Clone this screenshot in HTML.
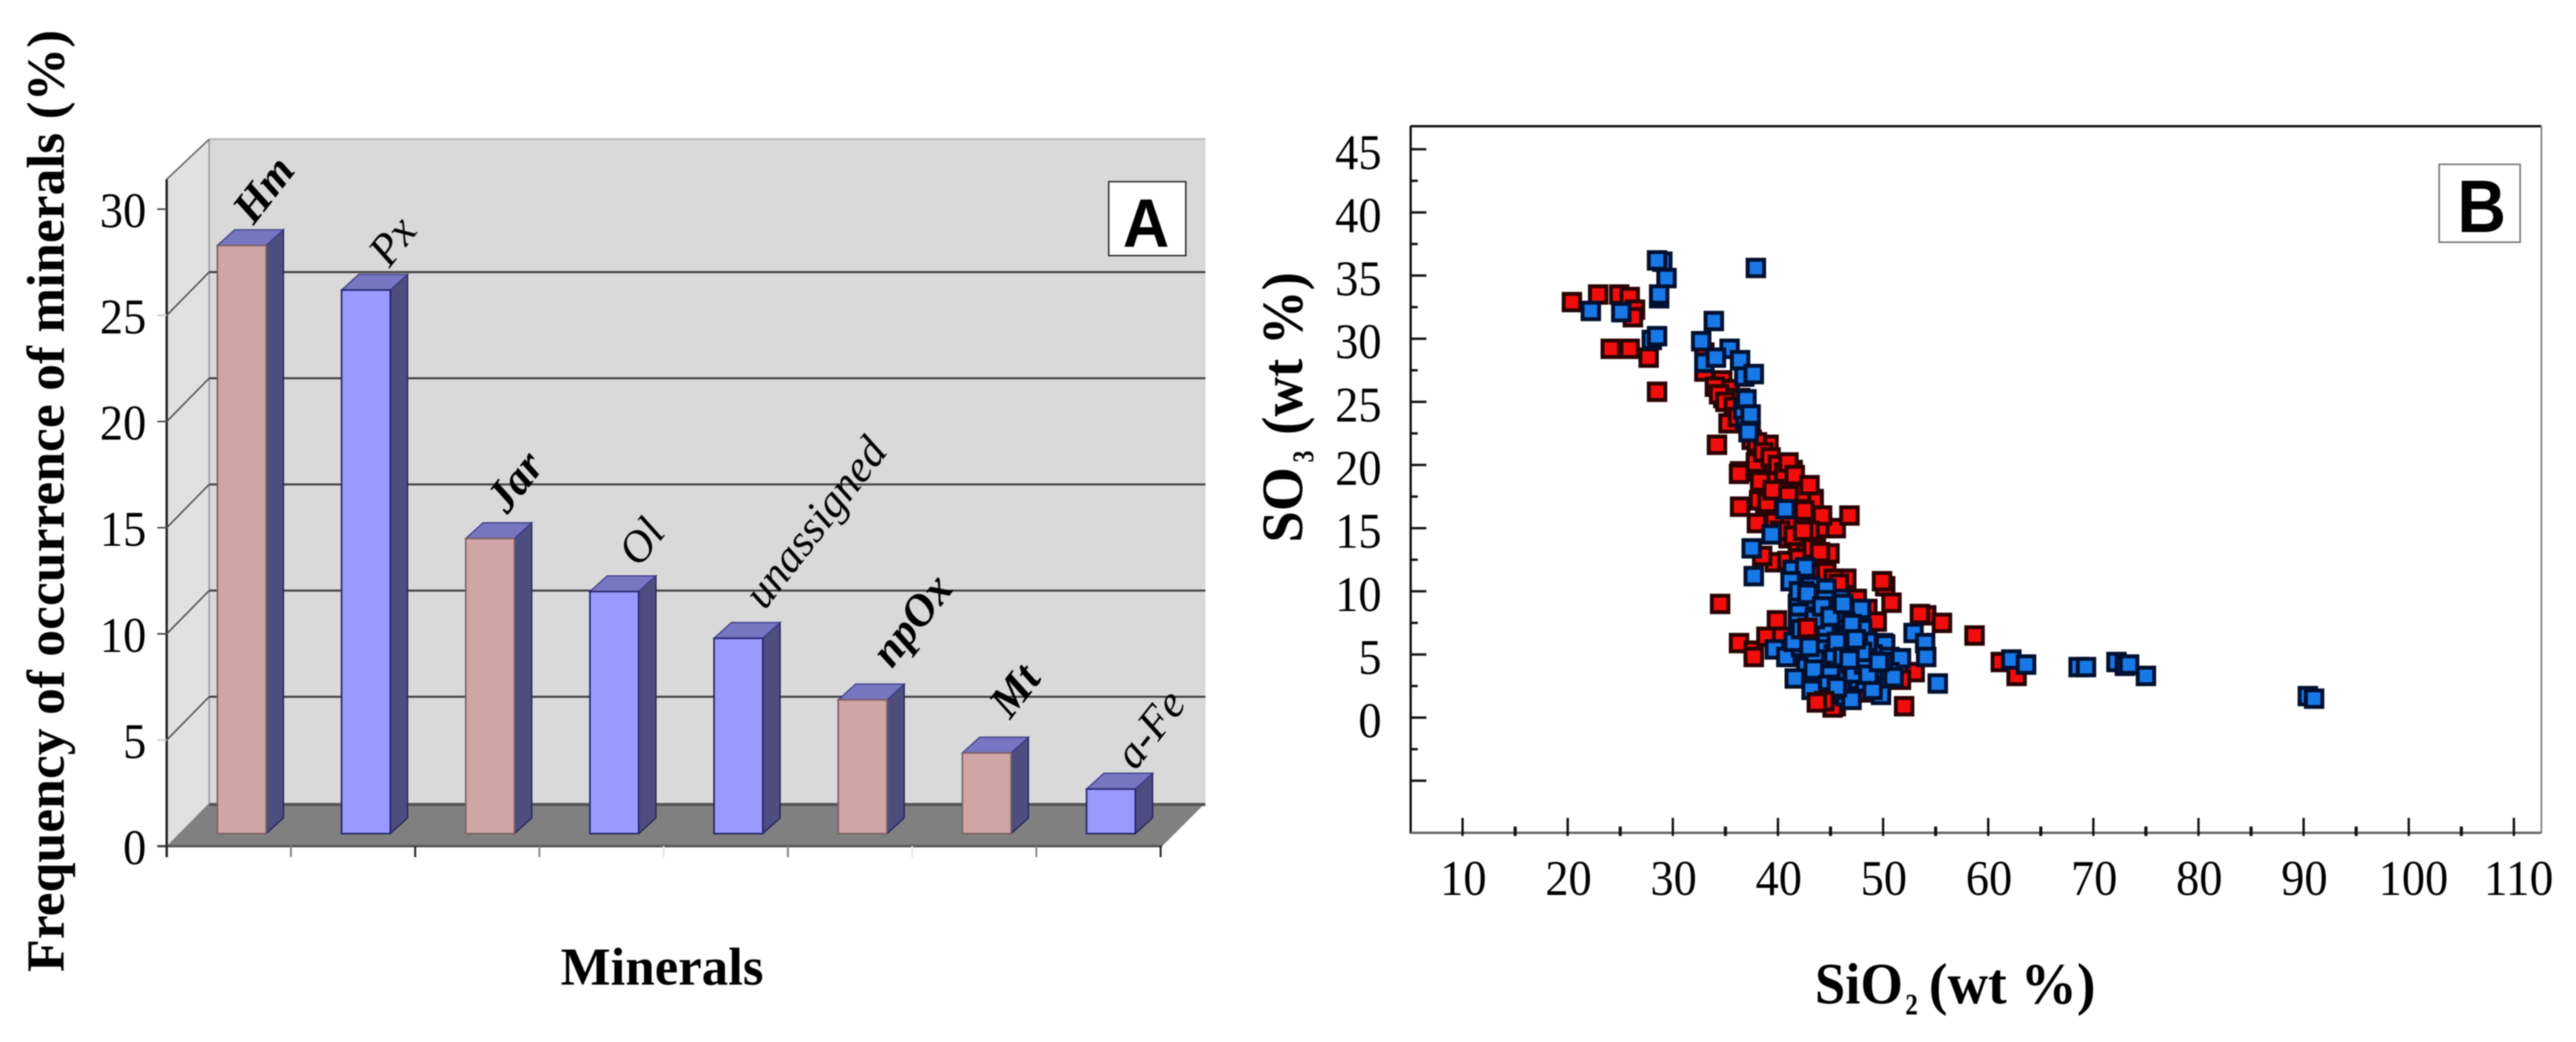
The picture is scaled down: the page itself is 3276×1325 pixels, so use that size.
<!DOCTYPE html>
<html lang="en">
<head>
<meta charset="utf-8">
<title>Mineral frequency and SO3 vs SiO2</title>
<style>
html,body{margin:0;padding:0;background:#fff;width:3276px;height:1325px;overflow:hidden}
svg{display:block;filter:blur(0.7px)}
text{font-family:"Liberation Serif",serif;fill:#000}
.bold{font-weight:bold}
.sans{font-family:"Liberation Sans",sans-serif;font-weight:bold}
</style>
</head>
<body>
<svg id="figure" xmlns="http://www.w3.org/2000/svg" width="3276" height="1325" viewBox="0 0 3276 1325">
  <rect x="0" y="0" width="3276" height="1325" fill="#ffffff"/>
  <g id="panelA">
    <polygon points="212,228 266,177 266,1021 212,1076" fill="#e1e1e1"/>
    <rect x="266" y="177" width="1267" height="844" fill="#d9d9d9"/>
    <line x1="266" y1="177" x2="1533" y2="177" stroke="#bfbfbf" stroke-width="3"/>
    <line x1="266" y1="177" x2="266" y2="1021" stroke="#a0a0a0" stroke-width="2"/>
    <line x1="212" y1="228" x2="266" y2="177" stroke="#666666" stroke-width="2"/>
    <polygon points="212,1076 266,1021 1533,1021 1478,1076" fill="#808080"/>
    <rect x="266" y="1021" width="1267" height="4" fill="#565656"/>
    <line x1="200" y1="1076" x2="1478" y2="1076" stroke="#555555" stroke-width="3"/>
    <line x1="212" y1="228" x2="212" y2="1090" stroke="#222222" stroke-width="3"/>
    <g id="gridA"></g>
    <g id="ticksA"></g>
    <g id="barsA"></g>
    <g id="labelsA"></g>
    <text class="bold" transform="rotate(-90 81 1236)" x="81" y="1236" font-size="68" textLength="1198" lengthAdjust="spacingAndGlyphs">Frequency of occurrence of minerals (%)</text>
    <text class="bold" x="713" y="1252" font-size="68" textLength="258" lengthAdjust="spacingAndGlyphs">Minerals</text>
    <rect x="1410" y="231" width="98" height="94" fill="#ffffff" stroke="#333333" stroke-width="2"/>
    <text class="sans" x="1428" y="314" font-size="87" textLength="59" lengthAdjust="spacingAndGlyphs">A</text>
  </g>
  <g id="panelB">
    <line x1="1794" y1="160.500" x2="3232" y2="160.500" stroke="#111111" stroke-width="3"/>
    <line x1="3232" y1="160" x2="3232" y2="1059" stroke="#777777" stroke-width="2"/>
    <line x1="1794" y1="160" x2="1794" y2="1060" stroke="#111111" stroke-width="3"/>
    <line x1="1794" y1="1059" x2="3232" y2="1059" stroke="#666666" stroke-width="3"/>
    <g id="ticksB"></g>
    <g id="pointsB"></g>
    <g>
      <text class="bold" transform="rotate(-90 1656 690)" x="1656" y="690" font-size="74" textLength="96" lengthAdjust="spacingAndGlyphs">SO</text>
      <text class="bold" transform="rotate(-90 1670 588)" x="1670" y="588" font-size="38" textLength="15" lengthAdjust="spacingAndGlyphs">3</text>
      <text class="bold" transform="rotate(-90 1656 553)" x="1656" y="553" font-size="74" textLength="207" lengthAdjust="spacingAndGlyphs">(wt %)</text>
    </g>
    <g>
      <text class="bold" x="2308" y="1276" font-size="74" textLength="112" lengthAdjust="spacingAndGlyphs">SiO</text>
      <text class="bold" x="2423" y="1290" font-size="38" textLength="16" lengthAdjust="spacingAndGlyphs">2</text>
      <text class="bold" x="2453" y="1276" font-size="74" textLength="212" lengthAdjust="spacingAndGlyphs">(wt %)</text>
    </g>
    <rect x="3102" y="209" width="103" height="99" fill="#ffffff" stroke="#777777" stroke-width="2"/>
    <text class="sans" x="3125" y="295" font-size="95" textLength="62" lengthAdjust="spacingAndGlyphs">B</text>
  </g>
</svg>
<script>
const mineralNames = ['Hm', 'Px', 'Jar', 'Ol', 'unassigned', 'npOx', 'Mt', 'a-Fe'];
const mineralValues = [27.7, 25.6, 13.9, 11.4, 9.2, 6.3, 3.8, 2.1];
const mineralKinds = ['oxide', 'silicate', 'oxide', 'silicate', 'silicate', 'oxide', 'oxide', 'silicate'];
const mineralEmphasis = [true, false, true, false, false, true, true, false];
const ticksA = [0, 5, 10, 15, 20, 25, 30];
const gridA = [5, 10, 15, 20, 25];

const ticksXB = [10, 20, 30, 40, 50, 60, 70, 80, 90, 100, 110];
const ticksYB = [0, 5, 10, 15, 20, 25, 30, 35, 40, 45];

const redX = [20.4,22.9,24.9,25.9,26.4,26.2,24.1,25.9,27.7,28.5,33,33,34.7,35.4,34.8,36.4,36,36.7,35.3,34.2,37.9,36.4,38.9,37.5,39.1,37.9,36.3,39.7,41.2,38.3,39.9,41.4,36.4,38.8,43.4,38,39.7,41.2,42.7,44.4,45.5,44.2,41,41.9,42.7,39.7,40.9,43.6,44.4,44.4,34.5,39.9,36.3,37.7,37.7,38.9,40.4,42.8,43.9,46.1,48,50.2,50.8,49.9,54.1,53.5,55.6,58.7,61.2,62.7,53,51.7,52,45.5,47.9,40.5,41.8,42.5,43,43.5,38.2,40,42,44.9,45,46.5,47.2,34,34.4,35,35.8,36.2,37,37.4,38,38.6,39.3,40,40.6,41,41.6,42.2,43,39,40.2,41.5,42.4,43.3,44,44.6,45.3,45.8,38.5,39.5,41,42.5,46.8,47.5,48.5,49.4,43.1,44.2,45.2];
const redY = [32.9,33.5,33.5,33.3,32.3,31.7,29.2,29.2,28.5,25.8,28.9,27.4,26.7,26,25.3,25.3,24.6,24.3,23.3,21.6,20.2,19.5,21.5,22,21.6,20.2,19.3,19.3,18.8,18.7,18,19.6,16.7,16.8,17.3,15.4,15.5,15.5,15.3,15,15,16,14.2,13.9,13,12.3,12.4,13.7,12.6,11.6,9,7.7,5.9,5.3,4.8,6.4,6.4,7.1,4.1,10.1,2,10.4,9.1,10.8,8.1,8.2,7.5,6.5,4.4,3.3,3.6,3,0.9,0.9,2,17.5,16.6,15.9,14.8,11.4,17.2,16.9,12.6,13,8.9,11,7,26.2,25.6,25,24.6,23.8,23.4,22.6,21.8,21,20.6,20,19.4,20.2,19.2,17.8,18.4,17,14.8,14.4,14.8,13.4,13.1,11.5,11,10.6,12.8,18,17.6,16.4,16,9.4,8.6,7.6,6.8,3.4,0.8,1];

const blueX = [29,28.5,29.4,28.7,28.7,22.2,25.1,28,28.5,37.9,33.9,33,32.7,35.4,34.1,36.4,36.8,37.7,36.9,37.2,40.7,39.4,37.5,37.7,41.4,42.6,43.1,41.9,43.1,44,45.9,47.9,44.6,43.1,46.4,46.6,45.4,44.2,47.9,39.7,40.8,42.2,44,45.8,42.7,46.1,45,41.6,43.9,47,48.3,46.1,48.7,49.4,50,49.8,50.2,50.6,51.7,50.6,49.8,46.4,52.9,54,54.1,55.2,62.2,63.6,68.6,69.3,72.2,73,73.4,75,90.4,91,42,44.5,45.3,46.8,47.5,43,44.5,45.5,48,49,47.2,44.8,46.3,48.5,42.5,41.9,43.5,36.7,37,37.4,41.2,42,42.8,43.5,44.2,45,45.6,46.2,47,47.6,48.2,41.5,43,44,45,46,47,48,49,50,51,42.2,43.4,44.8,46.2,47.4,48.6,49.6,44.4,45.6,46.8,43.2];
const blueY = [36.1,36.2,34.8,33.2,33.5,32.2,32.1,29.9,30.2,35.6,31.4,28.1,29.8,29.2,28.5,28.3,27,27.2,23.7,22.6,16.5,14.5,13.4,11.2,11.7,11.9,10.4,9,8.4,8.4,9.4,8.6,10.2,9.3,7.6,6.6,7.8,6.6,6.6,5.4,4.8,5.6,5.4,6.1,4,4.3,4,3.1,2.5,2.7,2.8,1.9,4.6,3.8,5.9,2.5,5.8,4.8,4.7,3.6,1.8,1.7,6.7,5.9,4.8,2.7,4.6,4.2,4,4,4.4,4.1,4.2,3.3,1.7,1.5,8.3,7.2,5,5.3,4,6.8,9.3,3,7,5,3.5,3.2,8.3,6,10,7.5,4.6,24.4,25.2,24,10.8,10,9.8,7.8,8.8,8,6,9,7.4,5.8,4.2,6,5.6,3.6,3.4,2.2,1.4,5.2,2.2,4.4,3.2,7,3.8,2.6,4.8,6.2,3.4,4.4,1.6,2.4,4.6,2.2];

const topRedX = [44.4, 43.7, 42.8];
const topRedY = [1.3, 1.2, 7.1];

const SVGNS = 'http://www.w3.org/2000/svg';
function mk(tag, attrs, parent) {
  const node = document.createElementNS(SVGNS, tag);
  for (const k in attrs) node.setAttribute(k, attrs[k]);
  parent.appendChild(node);
  return node;
}

/* Panel A axis functions */
const frontY = v => 1076 - 27 * v;
const wallY = v => 1021 - 27 * v;
const barBaseY = 1060;
const barTopY = v => barBaseY - 27 * v;
const barLeft = i => 276.500 + i * 157.900;
const barWidth = 62;
const depthX = 22;
const depthY = 20;

function drawPanelA() {
  const grid = document.getElementById('gridA');
  gridA.forEach(v => {
    const y = wallY(v);
    let el = mk('line', {x1: 266, y1: y, x2: 1533, y2: y, stroke: '#3a3a3a', 'stroke-width': 2.500}, grid);
    
    
    el = mk('line', {x1: 266, y1: y, x2: 212, y2: y + 55, stroke: '#555555', 'stroke-width': 2}, grid);
    
    
  });

  const ticks = document.getElementById('ticksA');
  ticksA.forEach(v => {
    const y = frontY(v);
    let el = mk('line', {x1: 200, y1: y, x2: 212, y2: y, stroke: (v === 5 || v === 25) ? '#cccccc' : '#444444', 'stroke-width': 2}, ticks);
    
    
    const s = String(v);
    el = mk('text', {x: 186, y: y + 23, 'font-size': 63, 'text-anchor': 'end', textLength: s.length * 29.500, lengthAdjust: 'spacingAndGlyphs'}, ticks);
    
    
    el.textContent = s;
  });
  const xTickColors = ['#222', '#888', '#222', '#888', '#e8e8e8', '#888', '#e8e8e8', '#888', '#222'];
  xTickColors.forEach((c, i) => {
    const x = 212 + i * 158;
    const el = mk('line', {x1: x, y1: 1076, x2: x, y2: 1090, stroke: c, 'stroke-width': 2.500}, ticks);
    
    
  });

  const bars = document.getElementById('barsA');
  const labels = document.getElementById('labelsA');
  const labelShiftX = [59, 65, 63, 66, 129, 94, 67, 81];
  const labelShiftY = [-51, -42, -52, -43, -127, -81, -59, -56];
  mineralValues.forEach((v, i) => {
    const left = barLeft(i);
    const right = left + barWidth;
    const top = barTopY(v);
    const name = mineralNames[i];
    const oxide = mineralKinds[i] === 'oxide';
    const g = mk('g', {}, bars);
    
    
    let el = mk('polygon', {points: [right, top, right + depthX, top - depthY, right + depthX, barBaseY - depthY, right, barBaseY].join(' '), fill: '#4d4d80', stroke: '#1d1d55', 'stroke-width': 1.500}, g);
    
    
    el = mk('polygon', {points: [left, top, left + depthX, top - depthY, right + depthX, top - depthY, right, top].join(' '), fill: '#7676c2', stroke: '#3a3a85', 'stroke-width': 1.500}, g);
    
    
    el = mk('rect', {x: left, y: top, width: barWidth, height: barBaseY - top, fill: oxide ? '#d0a5a5' : '#9999ff', stroke: oxide ? '#7d5f62' : '#22226a', 'stroke-width': 2}, g);
    
    

    const cx = left + labelShiftX[i];
    const cy = top - depthY + labelShiftY[i];
    const t = mk('text', {x: cx, y: cy + 18, 'text-anchor': 'middle', 'font-size': 57, 'font-style': 'italic', 'font-weight': mineralEmphasis[i] ? 'bold' : 'normal', transform: 'rotate(-52 ' + cx + ' ' + cy + ')'}, labels);
    
    
    t.textContent = name;
  });
}

/* Panel B axis functions */
const xB = v => 1860 + (v - 10) * 13.370;
const yB = v => 912.500 - 16.060 * v;

function drawPanelB() {
  const ticks = document.getElementById('ticksB');
  for (let v = 10; v <= 110; v += 5) {
    const major = v % 10 === 0;
    const el = mk('line', {x1: xB(v), y1: major ? 1040 : 1051, x2: xB(v), y2: 1063, stroke: '#111111', 'stroke-width': major ? 3 : 4}, ticks);
    
    
  }
  for (let v = -5; v <= 45; v += 2.500) {
    const major = v % 5 === 0;
    const el = mk('line', {x1: 1794, y1: yB(v), x2: major ? 1814 : 1803, y2: yB(v), stroke: '#111111', 'stroke-width': 3}, ticks);
    
    
  }
  ticksXB.forEach(v => {
    const s = String(v);
    const el = mk('text', {x: xB(v) + (v >= 100 ? 6 : 1), y: 1138, 'font-size': 63, 'text-anchor': 'middle', textLength: s.length * 29.500, lengthAdjust: 'spacingAndGlyphs'}, ticks);
    
    
    el.textContent = s;
  });
  ticksYB.forEach(v => {
    const s = String(v);
    const el = mk('text', {x: 1757, y: yB(v) + 25, 'font-size': 63, 'text-anchor': 'end', textLength: s.length * 29.500, lengthAdjust: 'spacingAndGlyphs'}, ticks);
    
    
    el.textContent = s;
  });

  const pts = document.getElementById('pointsB');
  const plot = (xs, ys, fill, stroke, series) => {
    xs.forEach((x, i) => {
      const el = mk('rect', {x: xB(x) - 10.500, y: yB(ys[i]) - 10.500, width: 21, height: 21, fill: fill, stroke: stroke, 'stroke-width': 5}, pts);
      
      
    });
  };
  plot(redX, redY, '#f20d0d', '#2a0404', 'red');
  plot(blueX, blueY, '#1878e6', '#021030', 'blue');
  plot(topRedX, topRedY, '#f20d0d', '#2a0404', 'red-top');
}

drawPanelA();
drawPanelB();
</script>
</body>
</html>
